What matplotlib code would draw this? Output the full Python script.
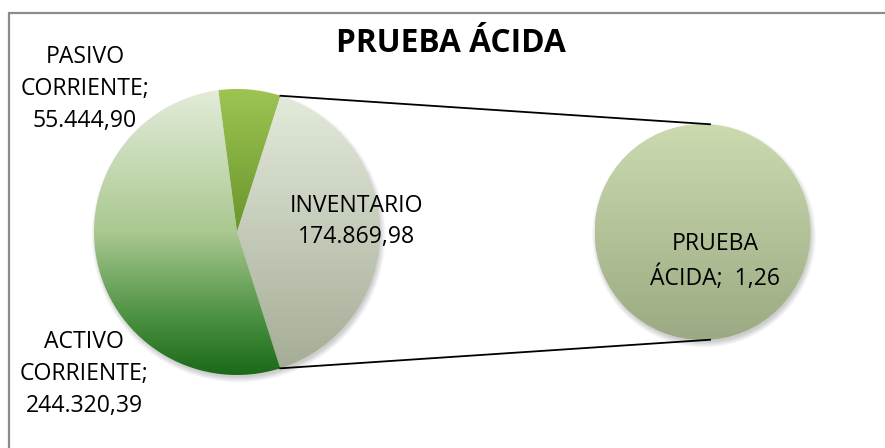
import numpy as np
import matplotlib
matplotlib.use("Agg")
import matplotlib.pyplot as plt
from matplotlib.patches import Circle
from matplotlib.colors import to_rgb

# ---- data -------------------------------------------------------------
title = "PRUEBA ÁCIDA"
main_names = ["PASIVO\nCORRIENTE", "INVENTARIO", "ACTIVO\nCORRIENTE"]
main_values = [55444.90, 174869.98, 244320.39]
main_sep = [";", "", ";"]
# slice shares as drawn in the picture (percent)
main_share = [7.0, 40.2, 52.8]
sub_names = ["PRUEBA\nÁCIDA"]
sub_values = [1.26]

# ---- style ------------------------------------------------------------
W, H = 885, 448
FONT = "Open Sans"
main_grad = [
    [(0.0, "#9dc552"), (1.0, "#6a952c")],
    [(0.0, "#e3eadb"), (1.0, "#a5ad97")],
    [(0.0, "#e3ecda"), (0.5, "#aac890"), (0.8, "#4b9141"), (1.0, "#1b691a")],
]
sub_grad = [[(0.0, "#cbdaaf"), (1.0, "#9caa83")]]


def es_num(v):
    s = f"{v:,.2f}"
    return s.replace(",", "X").replace(".", ",").replace("X", ".")


def Y(p):
    return H - p


def grad_img(stops, n=256):
    t = np.linspace(0, 1, n)
    pos = [s[0] for s in stops]
    cols = np.array([to_rgb(s[1]) for s in stops])
    rgb = np.stack([np.interp(t, pos, cols[:, k]) for k in range(3)], axis=-1)
    return rgb[:, None, :]


fig = plt.figure(figsize=(W / 100, H / 100), dpi=100)
ax = fig.add_axes([0, 0, 1, 1])

# frame (cropped at right/bottom)
ax.plot([8.5, 8.5, W + 5], [Y(H + 5), Y(12.5), Y(12.5)], color="#8c8c8c", lw=1.6,
        solid_joinstyle="miter", zorder=1)

main_c = (237.0, Y(232.0))
main_r = 143.0
sub_c = (702.5, Y(232.0))
sub_r = 108.0

# soft shadows
for c, r in [(main_c, main_r), (sub_c, sub_r)]:
    for i in range(10):
        ax.add_patch(Circle((c[0] + 1.5, c[1] - 3.5), r + 4 - i * 0.6,
                            color="black", alpha=0.02, lw=0, zorder=2))

wedges, _ = ax.pie(main_share, startangle=97.5, counterclock=False,
                   center=main_c, radius=main_r, frame=True,
                   wedgeprops=dict(facecolor="none", edgecolor="none", lw=0))
for w, stops in zip(wedges, main_grad):
    w.set_zorder(3)
    if len(stops) == 2:
        x0, y0, x1, y1 = w.get_path().get_extents(w.get_patch_transform()).bounds
        ext = (x0, x0 + x1, y0, y0 + y1)
    else:
        ext = (main_c[0] - main_r, main_c[0] + main_r,
               main_c[1] - main_r, main_c[1] + main_r)
    im = ax.imshow(grad_img(stops), extent=ext, aspect="auto",
                   interpolation="bilinear", zorder=3)
    im.set_clip_path(w)

swedges, _ = ax.pie(sub_values, startangle=90, counterclock=False,
                    center=sub_c, radius=sub_r, frame=True,
                    wedgeprops=dict(facecolor="none", edgecolor="none", lw=0))
for w, stops in zip(swedges, sub_grad):
    w.set_zorder(3)
    im = ax.imshow(grad_img(stops),
                   extent=(sub_c[0] - sub_r, sub_c[0] + sub_r,
                           sub_c[1] - sub_r, sub_c[1] + sub_r),
                   aspect="auto", interpolation="bilinear", zorder=3)
    im.set_clip_path(w)

# connector lines from the split slice to the second pie
g = wedges[1]
for ang_main, ang_sub in [(g.theta2, 86.0), (g.theta1, -86.0)]:
    a1, a2 = np.deg2rad(ang_main), np.deg2rad(ang_sub)
    p1 = (main_c[0] + main_r * np.cos(a1), main_c[1] + main_r * np.sin(a1))
    p2 = (sub_c[0] + sub_r * np.cos(a2), sub_c[1] + sub_r * np.sin(a2))
    ax.plot([p1[0], p2[0]], [p1[1], p2[1]], color="black", lw=1.3, zorder=4)

ax.set_xlim(0, W)
ax.set_ylim(0, H)
ax.set_aspect("auto")
ax.axis("off")

# ---- labels -------------------------------------------------------------
fs = 16.6


def put_lines(lines, cx, baselines):
    for ln, b in zip(lines, baselines):
        ax.text(cx, Y(b), ln, ha="center", va="baseline", fontsize=fs,
                family=FONT, color="black", zorder=6)


main_pos = [(85, [63, 95, 127]), (357, [211.5, 243]), (84, [348, 380, 412])]
for name, v, sep, (cx, bl) in zip(main_names, main_values, main_sep, main_pos):
    lines = name.split("\n")
    if sep:
        lines[-1] = lines[-1] + sep
        lines.append(es_num(v))
    else:
        lines.append(es_num(v))
    put_lines(lines, cx, bl)

for name, v in zip(sub_names, sub_values):
    lines = name.split("\n")
    lines[-1] = lines[-1] + ";  " + es_num(v)
    put_lines(lines, 715, [250, 285])

ax.text(451, Y(51.5), title, ha="center", va="baseline", fontsize=22.8,
        fontweight="bold", family=FONT, color="black", zorder=6)

fig.savefig("out.png", dpi=100, facecolor="white")
